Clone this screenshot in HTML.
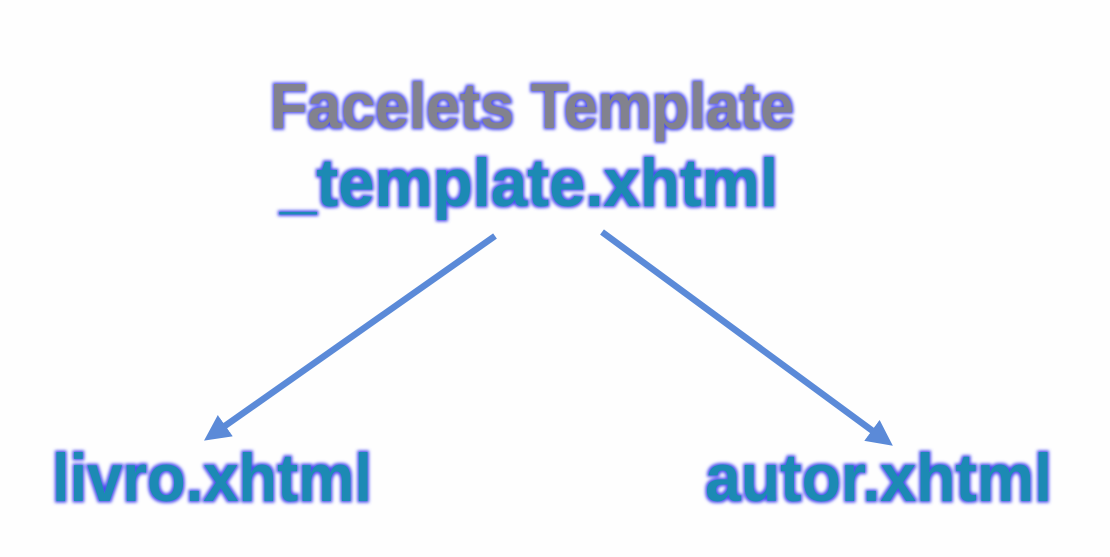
<!DOCTYPE html>
<html><head><style>
html,body{margin:0;padding:0;background:#fefefe;}
svg{display:block}
text{font-family:"Liberation Sans",sans-serif;font-weight:bold;}
</style></head><body>
<svg width="1110" height="557" viewBox="0 0 1110 557" xmlns="http://www.w3.org/2000/svg">
<defs>
<filter id="g" x="-10%" y="-30%" width="120%" height="160%">
<feMorphology in="SourceAlpha" operator="dilate" radius="1.5" result="d"/>
<feGaussianBlur in="d" stdDeviation="1.5" result="b"/>
<feFlood flood-color="#4a4cf0"/>
<feComposite in2="b" operator="in" result="s"/>
<feMerge><feMergeNode in="s"/><feMergeNode in="SourceGraphic"/></feMerge>
</filter>
<marker id="a" markerWidth="4" markerHeight="4" refX="2.5" refY="2" orient="auto" markerUnits="strokeWidth">
<path d="M0,0 L4,2 L0,4 z" fill="#5b8ad8"/>
</marker>
</defs>
<g filter="url(#g)">
<text x="270" y="128" font-size="64" fill="#82828e" textLength="524" lengthAdjust="spacingAndGlyphs">Facelets Template</text>
<text x="280" y="206" font-size="68" fill="#1a8ab4" textLength="498" lengthAdjust="spacingAndGlyphs">_template.xhtml</text>
<text x="52" y="501" font-size="68" fill="#1a8ab4" textLength="320" lengthAdjust="spacingAndGlyphs">livro.xhtml</text>
<text x="705" y="501" font-size="68" fill="#1a8ab4" textLength="347" lengthAdjust="spacingAndGlyphs">autor.xhtml</text>
</g>
<line x1="495" y1="236" x2="212" y2="435" stroke="#5b8ad8" stroke-width="6.5" marker-end="url(#a)"/>
<line x1="602" y1="232" x2="885" y2="440" stroke="#5b8ad8" stroke-width="6.5" marker-end="url(#a)"/>
</svg>
</body></html>
